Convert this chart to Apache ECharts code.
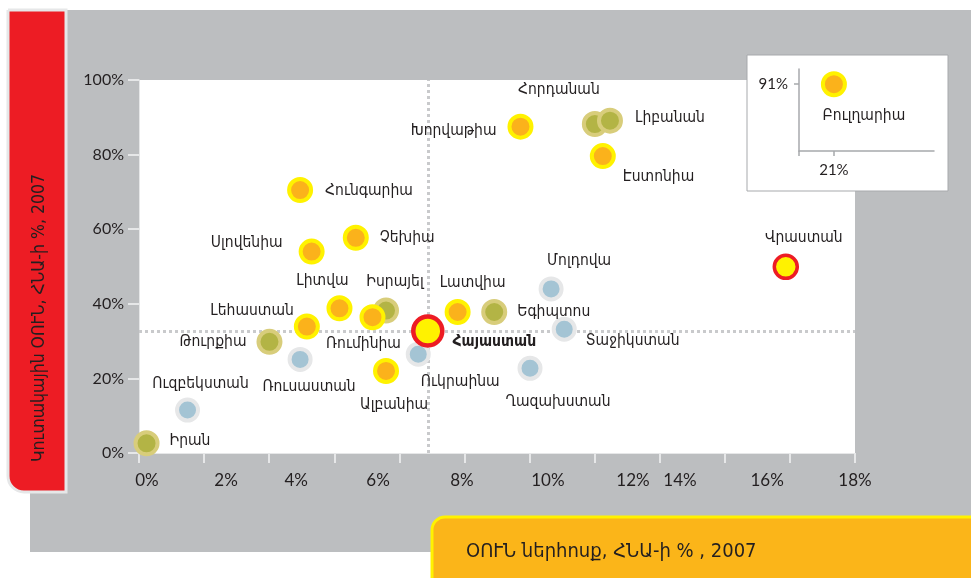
<!DOCTYPE html>
<html>
<head>
<meta charset="utf-8">
<script src="https://cdn.jsdelivr.net/npm/echarts@6/dist/echarts.min.js"></script>
<style>
html,body{margin:0;padding:0;background:#fff;}
#c{width:971px;height:578px;}
</style>
</head>
<body>
<div id="c"></div>
<script>
// ---------- data ----------
const orangeNames = ['Խորվաթիա','Հունգարիա','Չեխիա','Սլովենիա','Էստոնիա','Լիտվա','Լեհաստան','Ռումինիա','Ալբանիա','Լատվիա'];
const orangeX = [9.59, 4.05, 5.45, 4.34, 11.66, 5.04, 4.22, 5.87, 6.21, 8.01];
const orangeY = [87.5, 70.5, 57.7, 54.0, 79.6, 38.8, 33.9, 36.4, 22.0, 37.8];

const oliveNames = ['Իրան','Թուրքիա','Իսրայել','Եգիպտոս','Հորդանան','Լիբանան'];
const oliveX = [0.19, 3.28, 6.21, 8.93, 11.46, 11.84];
const oliveY = [2.6, 29.8, 38.2, 37.8, 88.2, 89.1];

const blueNames = ['Ուզբեկստան','Ռուսաստան','Ուկրաինա','Ղազախստան','Տաջիկստան','Մոլդովա'];
const blueX = [1.22, 4.05, 7.02, 9.83, 10.69, 10.36];
const blueY = [11.5, 25.1, 26.5, 22.7, 33.2, 44.0];

const armeniaName = ['Հայաստան'];
const armeniaX = [7.26];
const armeniaY = [32.7];

const georgiaName = ['Վրաստան'];
const georgiaX = [16.26];
const georgiaY = [49.9];

const insetName = ['Բուլղարիա'];
const insetX = [21];
const insetY = [91];

const xTickLabels = ['0%','2%','4%','6%','8%','10%','12%','14%','16%','18%'];
const xLabelAt = [0.20, 2.19, 3.95, 6.01, 8.12, 10.28, 12.42, 13.60, 15.79, 18.0];
const xTickCount = 11;

const yTitle = 'Կուտակային ՕՈՒՆ, ՀՆԱ-ի %, 2007';
const xTitle = 'ՕՈՒՆ ներհոսք, ՀՆԱ-ի % , 2007';

// ---------- layout / style ----------
const ARM = "'DejaVu Sans Condensed','DejaVu Sans',sans-serif";
const NUM = "Lato, 'DejaVu Sans', sans-serif";
const TXT = '#231f20';

const labelPlace = {
 'Իրան': ['right', 10, 0, -2],
 'Ուզբեկստան': ['top', 6, 13, 0],
 'Թուրքիա': ['left', 10, 0, 0],
 'Ռուսաստան': ['bottom', 7, 9, 0],
 'Լեհաստան': ['left', 0, 0, -16],
 'Լիտվա': ['top', 6, -17, 0],
 'Իսրայել': ['top', 8, 9, 0],
 'Ռումինիա': ['bottom', 6, -9, 0],
 'Ալբանիա': ['bottom', 13, 8, 0],
 'Հայաստան': ['right', 8, 0, 11],
 'Ուկրաինա': ['bottom', 7, 42, 0],
 'Լատվիա': ['top', 8, 15, 0],
 'Եգիպտոս': ['right', 10, 0, 0],
 'Ղազախստան': ['bottom', 13, 28, 0],
 'Տաջիկստան': ['right', 9, 0, 12],
 'Մոլդովա': ['top', 7, 28, 0],
 'Խորվաթիա': ['left', 11, 0, 4],
 'Հորդանան': ['top', 13, -36, 0],
 'Լիբանան': ['right', 12, 0, -3],
 'Էստոնիա': ['right', 7, 0, 21],
 'Հունգարիա': ['right', 12, 0, 1],
 'Չեխիա': ['right', 11, 0, 0],
 'Սլովենիա': ['left', 16, 0, -9],
 'Վրաստան': ['top', 8, 18, 0],
 'Բուլղարիա': ['bottom', 11, 30, 0]
};

function items(names, xs, ys, bold) {
  return names.map((n, i) => {
    const p = labelPlace[n] || ['right', 6, 0, 0];
    return {
      name: n,
      value: [xs[i], ys[i]],
      label: {
        show: true, formatter: '{b}', position: p[0], distance: p[1], offset: [p[2], p[3]],
        color: TXT, fontSize: 15.5, fontFamily: ARM, fontWeight: bold ? 'bold' : 'normal'
      }
    };
  });
}

function findIdx(v) {
  let best = 0, d = 1e9;
  xLabelAt.forEach((a, i) => { if (Math.abs(a - v) < d) { d = Math.abs(a - v); best = i; } });
  return best;
}

const tickVals = [];
for (let i = 0; i <= xTickCount; i++) tickVals.push(18 * i / xTickCount);

const chart = echarts.init(document.getElementById('c'), null, {renderer: 'canvas'});

const option = {
  animation: false,
  grid: [
    {left: 139, top: 80, width: 716, height: 373, show: true, backgroundColor: '#ffffff', borderWidth: 0, outerBoundsMode: 'none', containLabel: false},
    {left: 799, top: 69, width: 135, height: 82, show: false, outerBoundsMode: 'none', containLabel: false}
  ],
  xAxis: [
    {
      type: 'value', gridIndex: 0, min: 0, max: 18,
      splitLine: {show: false},
      axisLine: {show: true, lineStyle: {color: '#e6e7e8', width: 1}},
      axisTick: {show: true, customValues: tickVals, length: 10, lineStyle: {color: '#e6e7e8', width: 2}},
      axisLabel: {
        customValues: xLabelAt, formatter: v => xTickLabels[findIdx(v)],
        margin: 19, fontSize: 17, color: TXT, fontFamily: NUM
      }
    },
    {
      type: 'value', gridIndex: 1, min: 18, max: 29.6, z: 5,
      splitLine: {show: false},
      axisLine: {show: true, onZero: false, lineStyle: {color: '#a7a9ac', width: 1.5}},
      axisTick: {show: true, customValues: [18, 21], length: 5, lineStyle: {color: '#a7a9ac', width: 1.5}},
      axisLabel: {customValues: [21], formatter: '{value}%', margin: 12, fontSize: 15, color: TXT, fontFamily: NUM}
    }
  ],
  yAxis: [
    {
      type: 'value', gridIndex: 0, min: 0, max: 100, interval: 20,
      splitLine: {show: false},
      axisLine: {show: true, lineStyle: {color: '#e6e7e8', width: 1}},
      axisTick: {show: true, length: 11, lineStyle: {color: '#e6e7e8', width: 2}},
      axisLabel: {formatter: '{value}%', margin: 15, fontSize: 16, color: TXT, fontFamily: NUM}
    },
    {
      type: 'value', gridIndex: 1, min: 80, max: 93.5, z: 5,
      splitLine: {show: false},
      axisLine: {show: true, onZero: false, lineStyle: {color: '#a7a9ac', width: 1.5}},
      axisTick: {show: true, customValues: [91], length: 5, lineStyle: {color: '#a7a9ac', width: 1.5}},
      axisLabel: {customValues: [91], formatter: '{value}%', margin: 11, fontSize: 15, color: TXT, fontFamily: NUM}
    }
  ],
  graphic: [
    {type: 'rect', z: -10, silent: true, shape: {x: 30, y: 10, width: 941, height: 542}, style: {fill: '#bcbec0'}},
    {type: 'rect', z: 1, silent: true, shape: {x: 8, y: 10, width: 58, height: 482, r: [0, 0, 0, 16]}, style: {fill: '#ed1c24', stroke: '#e6e7e8', lineWidth: 3}},
    {type: 'text', z: 2, silent: true, x: 39, y: 318, rotation: Math.PI / 2, style: {text: yTitle, fill: TXT, fontSize: 17.5, fontFamily: ARM, align: 'center', verticalAlign: 'middle'}},
    {type: 'rect', z: 1, silent: true, shape: {x: 432, y: 517, width: 545, height: 70, r: [13, 0, 0, 0]}, style: {fill: '#fbb519', stroke: '#fff200', lineWidth: 3}},
    {type: 'text', z: 2, silent: true, x: 466, y: 552, style: {text: xTitle, fill: TXT, fontSize: 20, fontFamily: ARM, align: 'left', verticalAlign: 'middle'}},
    {type: 'rect', z: 1, silent: true, shape: {x: 747, y: 55, width: 201, height: 136}, style: {fill: '#ffffff', stroke: '#a7a9ac', lineWidth: 1}}
  ],
  series: [
    {
      type: 'scatter', xAxisIndex: 0, yAxisIndex: 0, z: 2, symbolSize: 22,
      itemStyle: {color: '#b3b445', borderColor: '#d8cd7b', borderWidth: 4, opacity: 1},
      emphasis: {disabled: true},
      data: items(oliveNames, oliveX, oliveY)
    },
    {
      type: 'scatter', xAxisIndex: 0, yAxisIndex: 0, z: 2, symbolSize: 21,
      itemStyle: {color: '#a4c4d4', borderColor: '#e6e7e8', borderWidth: 4, opacity: 1},
      emphasis: {disabled: true},
      data: items(blueNames, blueX, blueY)
    },
    {
      type: 'scatter', xAxisIndex: 0, yAxisIndex: 0, z: 3, symbolSize: 22,
      itemStyle: {color: '#fbb21b', borderColor: '#fff200', borderWidth: 4, opacity: 1},
      emphasis: {disabled: true},
      data: items(orangeNames, orangeX, orangeY)
    },
    {
      type: 'scatter', xAxisIndex: 0, yAxisIndex: 0, z: 4, symbolSize: 23,
      itemStyle: {color: '#fff200', borderColor: '#ed1c24', borderWidth: 3.5, opacity: 1},
      emphasis: {disabled: true},
      data: items(georgiaName, georgiaX, georgiaY)
    },
    {
      type: 'scatter', xAxisIndex: 0, yAxisIndex: 0, z: 4, symbolSize: 29,
      itemStyle: {color: '#fff200', borderColor: '#ed1c24', borderWidth: 4.5, opacity: 1},
      emphasis: {disabled: true},
      data: items(armeniaName, armeniaX, armeniaY, true),
      markLine: {
        silent: true, symbol: 'none', z: 1,
        label: {show: false},
        lineStyle: {color: '#c9cacc', width: 3, type: [3, 3]},
        emphasis: {disabled: true},
        data: [{xAxis: armeniaX[0]}, {yAxis: armeniaY[0]}]
      }
    },
    {
      type: 'scatter', xAxisIndex: 1, yAxisIndex: 1, z: 6, symbolSize: 22,
      itemStyle: {color: '#fbb21b', borderColor: '#fff200', borderWidth: 4, opacity: 1},
      emphasis: {disabled: true},
      data: items(insetName, insetX, insetY)
    }
  ]
};
chart.setOption(option);
</script>
</body>
</html>
